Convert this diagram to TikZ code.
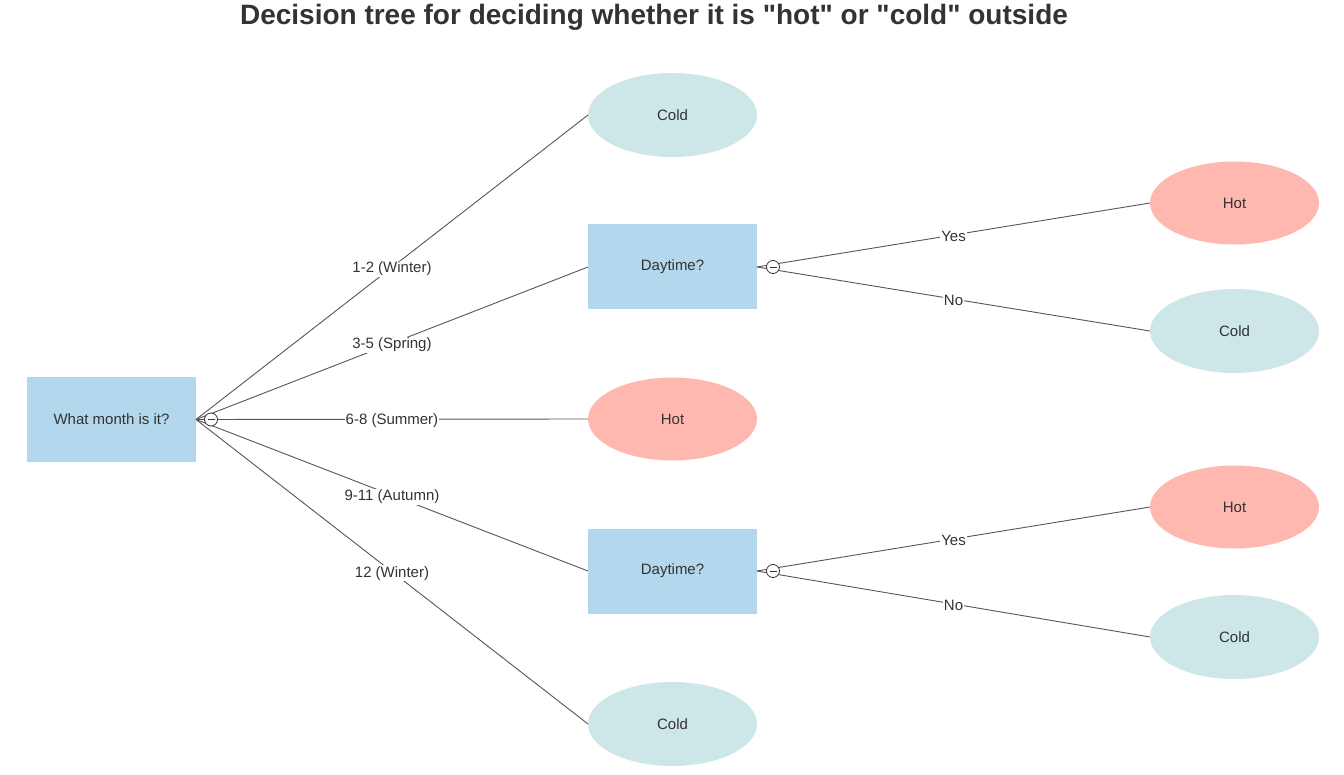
\documentclass[tikz,border=0pt]{standalone}
\usepackage{fontspec}
\setmainfont{Liberation Sans}
\newfontfamily\titlefont{Liberation Sans}
\usetikzlibrary{shapes.geometric}
\definecolor{txt}{HTML}{333333}
\definecolor{boxblue}{HTML}{B3D8EE}
\definecolor{coldc}{HTML}{CDE7E9}
\definecolor{hotc}{HTML}{FFB8B0}
\definecolor{edgec}{HTML}{555555}
\tikzset{
  base/.style={inner sep=0pt, outer sep=0pt, text=txt, font=\fontsize{15}{18}\selectfont},
  qbox/.style={base, rectangle, fill=boxblue, minimum width=169pt, minimum height=85pt},
  coldnode/.style={base, ellipse, fill=coldc, minimum width=169pt, minimum height=84pt},
  hotnode/.style={base, ellipse, fill=hotc, minimum width=169pt, minimum height=83pt},
  edge/.style={draw=edgec, line width=0.9pt},
  elabel/.style={fill=white, inner sep=1pt, yshift=-1.5pt, text=txt, font=\fontsize{15}{18}\selectfont},
  toggle/.style={circle, draw=txt, fill=white, line width=0.8pt, minimum size=13pt, inner sep=0pt},
}
\begin{document}
\begin{tikzpicture}[x=1pt,y=-1pt]
\useasboundingbox (0,0) rectangle (1344,775);
\node[text=txt, font=\titlefont\fontsize{28}{32}\selectfont\bfseries] (title) at (654,17) {Decision tree for deciding whether it is "hot" or "cold" outside};

\node[qbox] (root) at (111.5,419.5) {\raisebox{-1.5pt}{What month is it?}};
\node[coldnode] (c1) at (672.5,115) {\raisebox{-1.5pt}{Cold}};
\node[qbox] (d1) at (672.5,267) {\raisebox{-1.5pt}{Daytime?}};
\node[hotnode] (h1) at (672.5,419) {\raisebox{-1.5pt}{Hot}};
\node[qbox] (d2) at (672.5,571) {\raisebox{-1.5pt}{Daytime?}};
\node[coldnode] (c2) at (672.5,724) {\raisebox{-1.5pt}{Cold}};
\node[hotnode] (h2) at (1234.5,203) {\raisebox{-1.5pt}{Hot}};
\node[coldnode] (c3) at (1234.5,331) {\raisebox{-1.5pt}{Cold}};
\node[hotnode] (h3) at (1234.5,507) {\raisebox{-1.5pt}{Hot}};
\node[coldnode] (c4) at (1234.5,637) {\raisebox{-1.5pt}{Cold}};

\draw[edge] (root.east) -- node[elabel] (l1) {1-2 (Winter)} (c1.west);
\draw[edge] (root.east) -- node[elabel] (l2) {3-5 (Spring)} (d1.west);
\draw[edge] (root.east) -- node[elabel] (l3) {6-8 (Summer)} (h1.west);
\draw[edge] (root.east) -- node[elabel] (l4) {9-11 (Autumn)} (d2.west);
\draw[edge] (root.east) -- node[elabel] (l5) {12 (Winter)} (c2.west);

\draw[edge] (d1.east) -- node[elabel] (l6) {Yes} (h2.west);
\draw[edge] (d1.east) -- node[elabel] (l7) {No} (c3.west);
\draw[edge] (d2.east) -- node[elabel] (l8) {Yes} (h3.west);
\draw[edge] (d2.east) -- node[elabel] (l9) {No} (c4.west);

\node[toggle] (t1) at (211,419.5) {};
\draw[txt, line width=0.9pt] ([xshift=-3.5pt]t1.center) -- ([xshift=3.5pt]t1.center);
\node[toggle] (t2) at (773,267) {};
\draw[txt, line width=0.9pt] ([xshift=-3.5pt]t2.center) -- ([xshift=3.5pt]t2.center);
\node[toggle] (t3) at (773,571) {};
\draw[txt, line width=0.9pt] ([xshift=-3.5pt]t3.center) -- ([xshift=3.5pt]t3.center);
\end{tikzpicture}
\end{document}
